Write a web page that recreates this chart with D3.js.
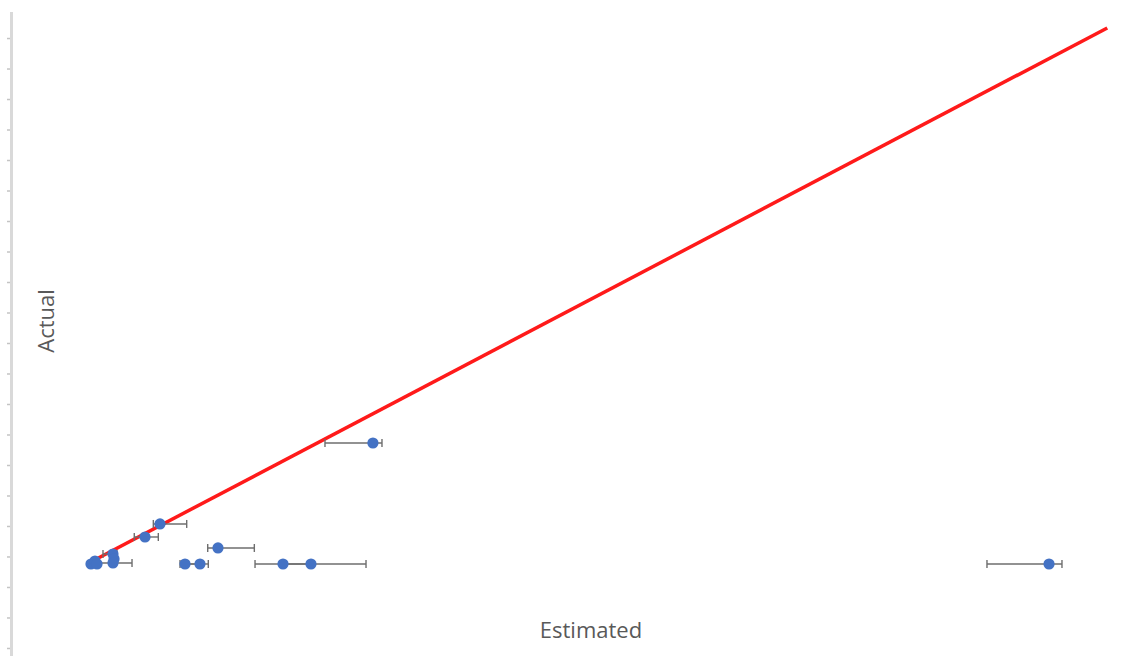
<!DOCTYPE html>
<html>
<head>
<meta charset="utf-8">
<script src="https://cdn.jsdelivr.net/npm/d3@7"></script>
<style>
  html, body { margin: 0; padding: 0; background: #ffffff; }
  svg { display: block; }
</style>
</head>
<body>
<svg id="chart" width="1126" height="656"></svg>
<script>
// ---- data (units; tick labels are cropped out) ----
const estimated = [2.823, 2.892, 2.927, 3.202, 3.220, 3.202, 3.754, 4.012, 5.011, 4.443, 4.701, 6.131, 6.613, 7.680, 19.327];
const actual    = [2.754, 2.852, 2.754, 3.082, 2.918, 2.787, 3.639, 4.066, 3.279, 2.754, 2.754, 2.754, 2.754, 6.721, 2.754];
const errLow    = [2.78, 2.85, 2.88, 3.030, 3.18, 2.927, 3.569, 3.897, 4.834, 4.357, 4.443, 5.649, 6.131, 6.854, 18.258];
const errHigh   = [2.87, 2.94, 2.97, 3.271, 3.26, 3.530, 3.983, 4.472, 5.637, 4.701, 4.844, 6.613, 7.561, 7.836, 19.550];
const refLineX  = [2.754, 20.33];
const refLineY  = [2.754, 20.33];
const yTicks    = d3.range(0, 21, 1);
const xTitle    = "Estimated";
const yTitle    = "Actual";

const svg = d3.select("#chart");

const x = d3.scaleLinear().domain([0, 20]).range([-72.9, 1088.1]);
const y = d3.scaleLinear().domain([-0.26, 20.85]).range([655.9, 12.1]);

// y axis (labels cropped off the left edge)
const yAxis = d3.axisLeft(y).tickValues(yTicks).tickSize(4).tickFormat(() => "");
const ya = svg.append("g").attr("transform", "translate(11.5,0)").call(yAxis);
ya.select(".domain").attr("stroke", "#d9d9d9").attr("stroke-width", 3)
  .attr("d", `M0,${y(20.85)}V${y(-0.26) + 2}`);
ya.selectAll(".tick line").attr("stroke", "#c4c4c4").attr("stroke-width", 1.5)
  .attr("x1", -1.5).attr("x2", -4.5);

// reference line (actual = estimated)
const refData = refLineX.map((d, i) => [d, refLineY[i]]);
svg.append("path")
  .datum(refData)
  .attr("d", d3.line().x(d => x(d[0])).y(d => y(d[1])))
  .attr("fill", "none")
  .attr("stroke", "#ff1a1a")
  .attr("stroke-width", 3.5)
  .attr("stroke-linecap", "butt");

const pts = estimated.map((e, i) => ({ e, a: actual[i], lo: errLow[i], hi: errHigh[i] }));

// error bars
const eb = svg.append("g").attr("stroke", "#6e6e6e").attr("stroke-width", 1.4).attr("fill", "none");
pts.forEach(p => {
  const cy = y(p.a);
  eb.append("line").attr("x1", x(p.lo)).attr("x2", x(p.hi)).attr("y1", cy).attr("y2", cy);
  eb.append("line").attr("x1", x(p.lo)).attr("x2", x(p.lo)).attr("y1", cy - 4).attr("y2", cy + 4);
  eb.append("line").attr("x1", x(p.hi)).attr("x2", x(p.hi)).attr("y1", cy - 4).attr("y2", cy + 4);
});

// markers
svg.append("g").selectAll("circle")
  .data(pts)
  .join("circle")
  .attr("cx", d => x(d.e))
  .attr("cy", d => y(d.a))
  .attr("r", 5.6)
  .attr("fill", "#4472c4");

// axis titles
svg.append("text")
  .attr("x", 591).attr("y", 638)
  .attr("text-anchor", "middle")
  .attr("font-family", "'Open Sans', sans-serif")
  .attr("font-size", 22)
  .attr("fill", "#595959")
  .text(xTitle);

svg.append("text")
  .attr("transform", "translate(54,321) rotate(-90)")
  .attr("text-anchor", "middle")
  .attr("font-family", "'Open Sans', sans-serif")
  .attr("font-size", 22)
  .attr("fill", "#595959")
  .text(yTitle);
</script>
</body>
</html>
